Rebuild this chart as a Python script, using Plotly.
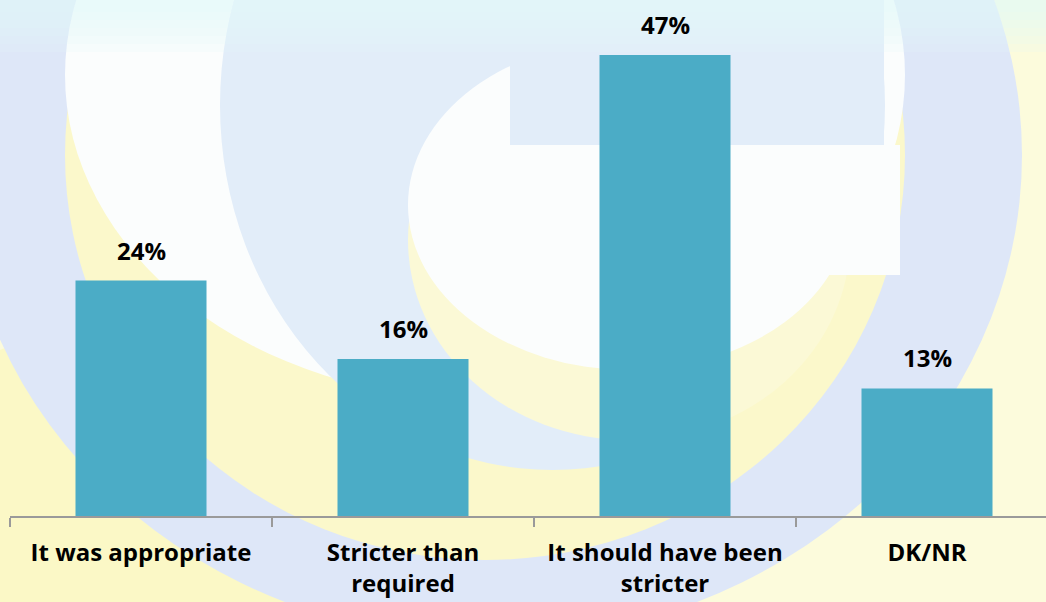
import plotly.graph_objects as go

categories = ["It was appropriate", "Stricter than<br>required", "It should have been<br>stricter", "DK/NR"]
values = [24, 16, 47, 13]
labels = ["24%", "16%", "47%", "13%"]

W, H = 1046, 602
ML, MR, MT, MB = 10, 0, 0, 86
FONT = "Open Sans, sans-serif"

def px(x):
    return (x - ML) / (W - ML - MR)

def py(y):
    return (H - MB - y) / (H - MT - MB)

fig = go.Figure()
fig.add_trace(go.Bar(
    x=list(range(len(categories))), y=values,
    marker=dict(color="#4BACC6", line=dict(width=0)),
    width=0.5, hoverinfo="skip",
))

shapes = []
def ell(x0, y0, x1, y1, color, opacity=1.0):
    shapes.append(dict(type="circle", xref="paper", yref="paper",
                       x0=px(x0), x1=px(x1), y0=py(y1), y1=py(y0),
                       fillcolor=color, line=dict(width=0), layer="below", opacity=opacity))
def rect(x0, y0, x1, y1, color, opacity=1.0):
    shapes.append(dict(type="rect", xref="paper", yref="paper",
                       x0=px(x0), x1=px(x1), y0=py(y1), y1=py(y0),
                       fillcolor=color, line=dict(width=0), layer="below", opacity=opacity))

# soft watermark approximation (logo behind the chart)
BLUE = "#dee7f8"
INNER = "#e2edf9"
WHITE = "#fbfdfd"
YEL = "#fbf8cb"
rect(0, 0, W, H, "#fcfbdc")
ell(-140, 330, 330, 800, "#fbf6bc", 0.7)
ell(-40, -330, 1022, 640, BLUE)
ell(65, -250, 905, 560, YEL)
ell(65, -250, 905, 400, WHITE)
ell(220, -260, 885, 470, INNER)
ell(408, 40, 850, 440, "#fbf9d6")
ell(408, 40, 850, 370, WHITE)
rect(510, 0, 884, 145, INNER)
rect(510, 145, 900, 275, WHITE)
for k in range(6):
    rect(0, 0, W, 12 + 8 * k, "#e2f8fc", 0.18)

annotations = []
for i, (v, t) in enumerate(zip(values, labels)):
    annotations.append(dict(x=i, y=v, text="<b>%s</b>" % t, showarrow=False,
                            xref="x", yref="y", yanchor="bottom", yshift=12,
                            font=dict(family=FONT, size=24, color="#000000")))

fig.update_layout(
    width=W, height=H,
    margin=dict(l=ML, r=MR, t=MT, b=MB),
    paper_bgcolor="#fcfbdc", plot_bgcolor="rgba(0,0,0,0)",
    showlegend=False, bargap=0.5,
    shapes=shapes, annotations=annotations,
    font=dict(family=FONT, size=24, color="#000000"),
)
fig.update_xaxes(
    range=[-0.5, -0.5 + (W - ML - MR) / 262.0],
    tickmode="array", tickvals=list(range(len(categories))),
    ticktext=["<b>%s</b>" % c for c in categories],
    showline=True, linecolor="#9a9a9a", linewidth=2,
    ticks="", showgrid=False, zeroline=False,
    ticklabelstandoff=14,
    tickfont=dict(family=FONT, size=24, color="#000000"),
)
fig.update_xaxes(minor=dict(tickmode="array", tickvals=[-0.5, 0.5, 1.5, 2.5, 3.5],
                            ticks="outside", ticklen=9, tickcolor="#9a9a9a", tickwidth=2))
fig.update_yaxes(range=[0, 52.6], visible=False, showgrid=False, zeroline=False)

fig.write_html("out.html", config={"displayModeBar": False},
               post_script="document.body.style.margin='0';document.body.style.overflow='hidden';")
